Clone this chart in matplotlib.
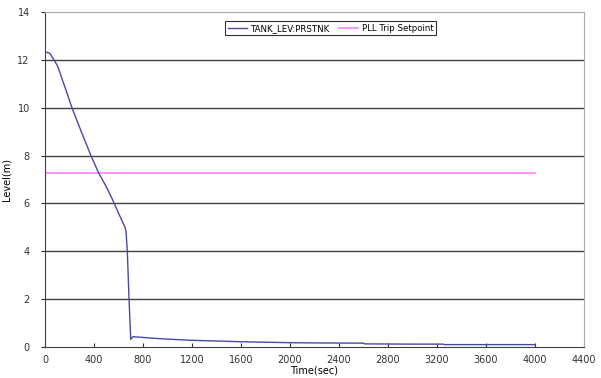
import matplotlib.pyplot as plt

# Tank level (m) vs time (sec)
time_s = [0, 20, 40, 60, 80, 106, 150, 220, 300, 375, 440, 500, 553, 600,
          653, 661, 672, 686, 700, 718, 800, 900, 1000, 1200, 1400, 1600,
          1800, 2000, 2200, 2600, 2610, 3000, 3250, 3260, 3600, 4000]
level_m = [12.33, 12.31, 12.27, 12.1, 11.95, 11.7, 11.05, 10.0, 8.95, 8.0,
           7.25, 6.7, 6.14, 5.6, 5.0, 4.85, 4.0, 2.0, 0.32, 0.43, 0.40,
           0.36, 0.33, 0.28, 0.25, 0.22, 0.2, 0.18, 0.17, 0.16, 0.13, 0.12,
           0.12, 0.1, 0.1, 0.1]

setpoint_t = [0, 4000]
setpoint_v = [7.27, 7.27]

xticks = list(range(0, 4401, 400))
yticks = list(range(0, 15, 2))

fig = plt.figure(figsize=(6.01, 3.78), dpi=100)
ax = fig.add_axes([45 / 601, 1 - 347 / 378, 539 / 601, 335 / 378])

for y in yticks[1:-1]:
    ax.axhline(y, color='#404040', lw=1.0, zorder=1)

ax.plot(time_s, level_m, color='#4848a8', lw=1.0, label='TANK_LEV:PRSTNK', zorder=3)
ax.plot(setpoint_t, setpoint_v, color='#ff80ff', lw=1.2, label='PLL Trip Setpoint', zorder=2)

ax.set_xlim(0, 4400)
ax.set_ylim(0, 14)
ax.set_xticks(xticks)
ax.set_yticks(yticks)
ax.tick_params(axis='x', direction='in', length=3, labelsize=7, colors='#333333', pad=6)
ax.tick_params(axis='y', direction='out', length=3, labelsize=7, colors='#333333', pad=8)

for s in ['left', 'bottom']:
    ax.spines[s].set_color('#404040')
for s in ['top', 'right']:
    ax.spines[s].set_color('#aaaaaa')

ax.set_xlabel('Time(sec)', fontsize=7, labelpad=0)
ax.set_ylabel('Level(m)', fontsize=7, labelpad=4)

leg = ax.legend(loc='upper center', bbox_to_anchor=(0.53, 0.985), ncol=2, fontsize=6.2,
                frameon=True, fancybox=False, edgecolor='black', handlelength=2.2,
                columnspacing=1.0, handletextpad=0.5, borderpad=0.3)
leg.get_frame().set_linewidth(0.8)

fig.savefig('out.png', dpi=100)
